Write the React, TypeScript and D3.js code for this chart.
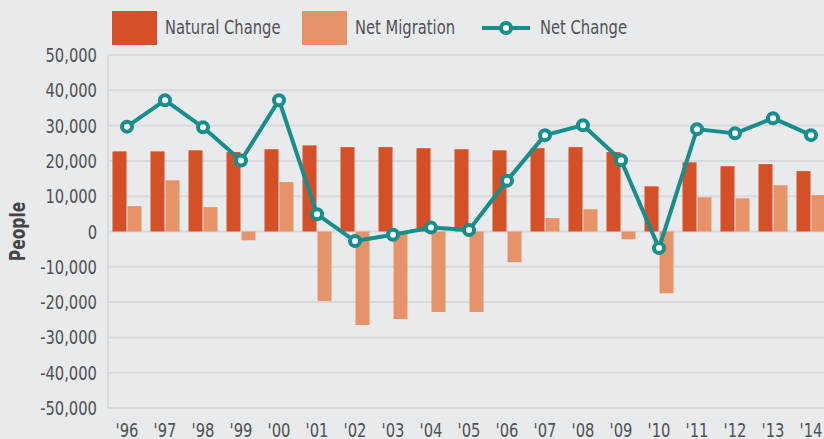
import React from "react";
import * as d3 from "d3";

const years = ["'96","'97","'98","'99","'00","'01","'02","'03","'04","'05","'06","'07","'08","'09","'10","'11","'12","'13","'14"];
const naturalChange = [22700,22700,23000,22500,23300,24400,23900,23900,23600,23300,23000,23600,23900,22500,12800,19600,18500,19100,17100];
const netMigration = [7200,14500,6900,-2500,14000,-19700,-26500,-24800,-22800,-22800,-8700,3800,6300,-2200,-17500,9700,9400,13100,10300];
const netChange = [29700,37200,29500,20100,37200,4900,-2700,-900,1100,400,14400,27300,30100,20200,-4700,29000,27800,32100,27300];
const yTicks = [50000,40000,30000,20000,10000,0,-10000,-20000,-30000,-40000,-50000];

const W = 824, H = 439;
const FONT = "'DejaVu Sans Condensed', 'Liberation Sans Narrow', sans-serif";
const C_NAT = "#d65027";
const C_MIG = "#e6936a";
const C_NET = "#178e8c";
const TXT = "#505155";
const SX = 0.82;

const fmt = d3.formatLocale({ decimal: ".", thousands: ",", grouping: [3], currency: ["", ""], minus: "-" }).format(",");

function T(props: { x: number; y: number; anchor?: string; size?: number; weight?: string; fill?: string; rotate?: number; children: React.ReactNode }) {
  const { x, y, anchor = "start", size = 20, weight = "normal", fill = TXT, rotate = 0, children } = props;
  return (
    <text
      transform={`translate(${x},${y}) rotate(${rotate}) scale(${SX},1)`}
      textAnchor={anchor}
      fontFamily={FONT}
      fontSize={size}
      fontWeight={weight}
      fill={fill}
    >
      {children}
    </text>
  );
}

export default function App() {
  const x = d3.scaleBand<string>().domain(years).range([108, 108 + 38 * years.length]).paddingInner(0.24).paddingOuter(0.12);
  const y = d3.scaleLinear().domain([-50000, 50000]).range([408, 55]);
  const bw = 14;
  const cx = (d: string) => (x(d) as number) + x.bandwidth() / 2;
  const line = d3.line<number>().x((_, i) => cx(years[i])).y((v) => y(v));
  return (
    <svg width={W} height={H} style={{ position: "absolute", left: 0, top: 0, background: "#e9eaec" }}>
      <rect x={0} y={0} width={W} height={H} fill="#e9eaec" />
      {yTicks.map((t) => (
        <line key={"g" + t} x1={108} x2={W} y1={y(t)} y2={y(t)} stroke="#d8d9db" strokeWidth={2} />
      ))}
      <line x1={108} x2={108} y1={y(50000)} y2={y(-50000)} stroke="#d8d9db" strokeWidth={2} />
      {yTicks.map((t) => (
        <T key={"t" + t} x={97} y={y(t) + 7} anchor="end">{fmt(t)}</T>
      ))}
      {years.map((yr, i) => (
        <g key={yr}>
          <rect x={cx(yr) - bw - 0.5} width={bw} y={y(Math.max(0, naturalChange[i]))} height={Math.abs(y(naturalChange[i]) - y(0))} fill={C_NAT} />
          <rect x={cx(yr) + 0.5} width={bw} y={y(Math.max(0, netMigration[i]))} height={Math.abs(y(netMigration[i]) - y(0))} fill={C_MIG} />
          <T x={cx(yr)} y={437} anchor="middle">{yr}</T>
        </g>
      ))}
      <path d={line(netChange) || ""} fill="none" stroke={C_NET} strokeWidth={4} strokeLinejoin="round" />
      {netChange.map((v, i) => (
        <circle key={"c" + i} cx={cx(years[i])} cy={y(v)} r={5} fill="#fff" stroke={C_NET} strokeWidth={4} />
      ))}
      <T x={25} y={y(0)} anchor="middle" rotate={-90} size={21} weight="bold" fill="#444548">People</T>
      <rect x={112} y={11} width={45} height={34} fill={C_NAT} />
      <T x={165} y={34}>Natural Change</T>
      <rect x={302} y={11} width={45} height={34} fill={C_MIG} />
      <T x={355} y={34}>Net Migration</T>
      <line x1={482} x2={530} y1={28} y2={28} stroke={C_NET} strokeWidth={4} />
      <circle cx={506} cy={28} r={5} fill="#fff" stroke={C_NET} strokeWidth={4} />
      <T x={540} y={34}>Net Change</T>
    </svg>
  );
}
